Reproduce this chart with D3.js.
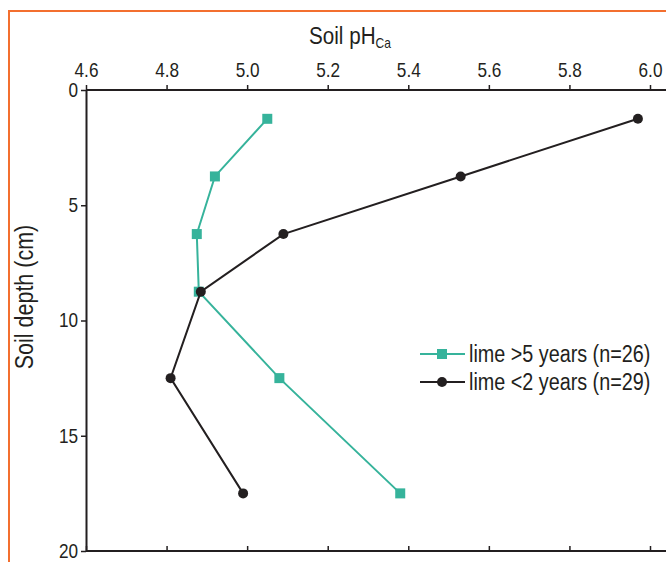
<!DOCTYPE html>
<html>
  <head>
    <meta charset="utf-8" />
    <title>Soil pH by depth</title>
    <script src="https://d3js.org/d3.v7.min.js"></script>
    <style>
      body {
        margin: 0;
        background: #fff;
      }
      svg {
        display: block;
      }
      text {
        font-family: "Liberation Sans", Arial, sans-serif;
      }
    </style>
  </head>
  <body>
    <svg width="666" height="562"></svg>

    <script>
      // depths (cm) are the midpoints of the sampled layers
      const depths = [1.25, 3.75, 6.25, 8.75, 12.5, 17.5];
      const limeOld = [5.05, 4.92, 4.875, 4.88, 5.08, 5.38];   // lime >5 years
      const limeNew = [5.97, 5.53, 5.09, 4.885, 4.81, 4.99];   // lime <2 years
      const phTicks = [4.6, 4.8, 5.0, 5.2, 5.4, 5.6, 5.8, 6.0];
      const depthTicks = [0, 5, 10, 15, 20];
      const seriesNames = ["lime >5 years (n=26)", "lime <2 years (n=29)"];

      const green = "#36b39b";
      const dark = "#231f20";
      const orange = "#f36f2f";
      const squeeze = 0.86; // fake a condensed face, none installed

      const svg = d3.select("svg");
      const width = +svg.attr("width");

      const x = d3.scaleLinear().domain([4.6, 6.0]).range([86, 650]);
      const y = d3.scaleLinear().domain([0, 20]).range([90, 551]);

      // orange frame (only top and left visible)
      svg.append("path")
        .attr("d", `M9,${562}V11H${width}`)
        .attr("fill", "none")
        .attr("stroke", orange)
        .attr("stroke-width", 2);

      // top axis with labels
      const topAxis = svg.append("g")
        .attr("transform", `translate(0, ${y(0)})`)
        .call(d3.axisTop(x).tickValues(phTicks).tickFormat(d3.format(".1f"))
          .tickSize(5).tickSizeOuter(0).tickPadding(8));

      // bottom axis, inward ticks, no labels
      const bottomAxis = svg.append("g")
        .attr("transform", `translate(0, ${y(20)})`)
        .call(d3.axisBottom(x).tickValues(phTicks).tickFormat("")
          .tickSize(-5).tickSizeOuter(0));

      const leftAxis = svg.append("g")
        .attr("transform", `translate(${x(4.6)}, 0)`)
        .call(d3.axisLeft(y).tickValues(depthTicks).tickSize(5).tickSizeOuter(0).tickPadding(3));

      // stretch horizontal axis lines to the right edge
      topAxis.select(".domain").attr("d", `M${x(4.6)},0H${width}`);
      bottomAxis.select(".domain").attr("d", `M${x(4.6)},0H${width}`);

      svg.selectAll(".domain, .tick line")
        .attr("stroke", dark)
        .attr("stroke-width", 2);
      svg.selectAll(".tick line").attr("stroke-width", 1.5);
      svg.selectAll(".tick text")
        .attr("fill", dark)
        .attr("font-size", 20)
        .attr("font-family", null);
      topAxis.selectAll(".tick text").attr("transform", `scale(${squeeze},1)`);
      leftAxis.selectAll(".tick text")
        .attr("x", -8 / squeeze)
        .attr("transform", `scale(${squeeze},1)`);

      // titles
      const title = svg.append("text")
        .attr("transform", `translate(350, 44) scale(${squeeze},1)`)
        .attr("text-anchor", "middle")
        .attr("font-size", 24)
        .attr("fill", dark);
      title.append("tspan").text("Soil pH");
      title.append("tspan").attr("font-size", 14).attr("dy", 4).text("Ca");

      svg.append("text")
        .attr("transform", `translate(33, 297) rotate(-90) scale(${squeeze},1)`)
        .attr("text-anchor", "middle")
        .attr("font-size", 25)
        .attr("fill", dark)
        .text("Soil depth (cm)");

      const line = d3.line()
        .x(d => x(d[0]))
        .y(d => y(d[1]));

      const oldPts = depths.map((d, i) => [limeOld[i], d]);
      const newPts = depths.map((d, i) => [limeNew[i], d]);

      // green series drawn first, black on top
      svg.append("path")
        .attr("d", line(oldPts))
        .attr("fill", "none")
        .attr("stroke", green)
        .attr("stroke-width", 2);

      svg.selectAll(".sq")
        .data(oldPts)
        .join("rect")
        .attr("class", "sq")
        .attr("x", d => x(d[0]) - 5)
        .attr("y", d => y(d[1]) - 5)
        .attr("width", 10)
        .attr("height", 10)
        .attr("fill", green);

      svg.append("path")
        .attr("d", line(newPts))
        .attr("fill", "none")
        .attr("stroke", dark)
        .attr("stroke-width", 2);

      svg.selectAll(".dot")
        .data(newPts)
        .join("circle")
        .attr("class", "dot")
        .attr("cx", d => x(d[0]))
        .attr("cy", d => y(d[1]))
        .attr("r", 5)
        .attr("fill", dark);

      // legend
      const legend = svg.append("g").attr("transform", "translate(420, 354)");
      seriesNames.forEach((name, i) => {
        const row = legend.append("g").attr("transform", `translate(0, ${i * 28})`);
        const col = i === 0 ? green : dark;
        row.append("line")
          .attr("x1", 0).attr("x2", 45)
          .attr("stroke", col)
          .attr("stroke-width", 2);
        if (i === 0) {
          row.append("rect")
            .attr("x", 17).attr("y", -5)
            .attr("width", 10).attr("height", 10)
            .attr("fill", col);
        } else {
          row.append("circle")
            .attr("cx", 22).attr("r", 5)
            .attr("fill", col);
        }
        row.append("text")
          .attr("transform", `translate(49, 0) scale(${squeeze},1)`)
          .attr("dy", "0.35em")
          .attr("font-size", 23)
          .attr("fill", dark)
          .text(name);
      });
    </script>
  </body>
</html>
